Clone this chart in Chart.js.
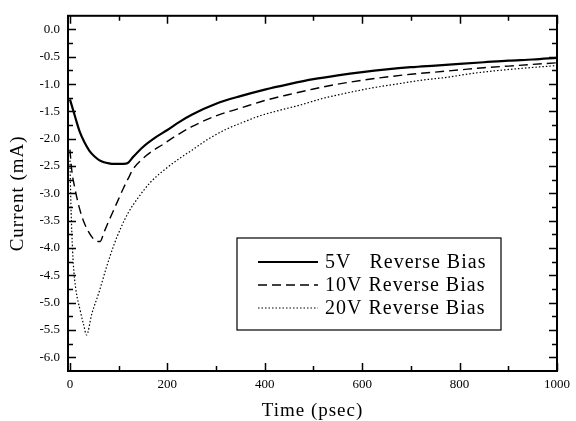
<!DOCTYPE html>
<html lang="en">
<head>
<meta charset="UTF-8">
<title>Transient Current vs Time</title>
<style>
    body { margin: 0; background: #ffffff; }
    #wrap { width: 576px; height: 421px; }
</style>
</head>
<body>
<div id="wrap"><canvas id="chart"></canvas></div>
<script src="https://cdn.jsdelivr.net/npm/chart.js@4.4.0/dist/chart.umd.min.js"></script>
<script>
// time (psec) and current (mA) for each reverse bias
var t5  = [0, 10, 20, 30, 40, 50, 60, 70, 80, 90, 100, 110, 118, 130, 150, 175, 200, 225, 250, 300, 350, 400, 450, 500, 550, 600, 650, 700, 750, 800, 850, 900, 950, 1000];
var i5  = [-1.28, -1.58, -1.87, -2.07, -2.22, -2.32, -2.39, -2.43, -2.45, -2.46, -2.46, -2.46, -2.45, -2.33, -2.15, -1.98, -1.84, -1.69, -1.56, -1.36, -1.22, -1.10, -1.00, -0.91, -0.84, -0.78, -0.73, -0.69, -0.66, -0.63, -0.60, -0.57, -0.55, -0.52];

var t10 = [0, 4, 10, 16, 22, 28, 38, 48, 58, 62, 70, 80, 90, 100, 110, 120, 130, 150, 170, 190, 210, 250, 300, 350, 400, 450, 500, 550, 600, 650, 700, 750, 800, 850, 900, 950, 1000];
var i10 = [-2.2, -2.6, -2.9, -3.15, -3.35, -3.51, -3.7, -3.83, -3.88, -3.88, -3.71, -3.5, -3.3, -3.1, -2.9, -2.72, -2.55, -2.36, -2.22, -2.11, -1.99, -1.78, -1.58, -1.44, -1.30, -1.19, -1.09, -1.00, -0.93, -0.87, -0.82, -0.78, -0.74, -0.70, -0.67, -0.64, -0.61];

var t20 = [0, 2, 4, 7, 12, 21, 28, 34, 45, 60, 75, 90, 105, 120, 140, 165, 195, 225, 252, 285, 320, 355, 390, 430, 470, 520, 570, 620, 670, 720, 770, 830, 880, 930, 1000];
var i20 = [-2.4, -3.2, -3.75, -4.3, -4.75, -5.14, -5.4, -5.59, -5.2, -4.8, -4.35, -3.95, -3.62, -3.35, -3.08, -2.8, -2.56, -2.36, -2.2, -2.0, -1.83, -1.70, -1.58, -1.48, -1.39, -1.26, -1.16, -1.07, -1.0, -0.93, -0.88, -0.80, -0.75, -0.71, -0.66];

var seriesNames = ['5V   Reverse Bias', '10V Reverse Bias', '20V Reverse Bias'];
var xTitle = 'Time (psec)';
var yTitle = 'Current (mA)';

var xTicks = [0, 200, 400, 600, 800, 1000];
var xMinor = [100, 300, 500, 700, 900];
var yTicks = [0, -0.5, -1, -1.5, -2, -2.5, -3, -3.5, -4, -4.5, -5, -5.5, -6];
var yMinor = [-0.25, -0.75, -1.25, -1.75, -2.25, -2.75, -3.25, -3.75, -4.25, -4.75, -5.25, -5.75];

var serif = 'Liberation Serif';

function toPoints(ts, vs) {
    return ts.map(function (t, k) { return { x: t, y: vs[k] }; });
}

// box round the plot with inward ticks on all four sides
var framePlugin = {
    id: 'frame',
    afterDatasetsDraw: function (chart) {
        var ctx = chart.ctx, a = chart.chartArea;
        var xs = chart.scales.x, ys = chart.scales.y;
        ctx.save();
        ctx.strokeStyle = '#000';
        ctx.lineWidth = 1.5;
        ctx.beginPath();
        function xt(v, len) {
            var p = Math.round(xs.getPixelForValue(v)) + 0.5;
            ctx.moveTo(p, a.bottom); ctx.lineTo(p, a.bottom - len);
            ctx.moveTo(p, a.top); ctx.lineTo(p, a.top + len);
        }
        function yt(v, len) {
            var p = Math.round(ys.getPixelForValue(v)) + 0.5;
            ctx.moveTo(a.left, p); ctx.lineTo(a.left + len, p);
            ctx.moveTo(a.right, p); ctx.lineTo(a.right - len, p);
        }
        xTicks.forEach(function (v) { xt(v, 8); });
        xMinor.forEach(function (v) { xt(v, 5); });
        yTicks.forEach(function (v) { yt(v, 8); });
        yMinor.forEach(function (v) { yt(v, 5); });
        ctx.stroke();
        ctx.lineWidth = 2;
        ctx.strokeRect(a.left, a.top, a.right - a.left, a.bottom - a.top);
        ctx.restore();
    }
};

// axis titles and the legend box, lower right
var overlay = {
    id: 'overlay',
    afterDraw: function (chart) {
        var ctx = chart.ctx, a = chart.chartArea;
        ctx.save();
        ctx.fillStyle = '#000';
        ctx.textAlign = 'center';
        ctx.textBaseline = 'middle';
        ctx.font = '19px "' + serif + '"';
        ctx.letterSpacing = '1px';
        ctx.fillText(xTitle, (a.left + a.right) / 2, 411);
        ctx.save();
        ctx.translate(18, (a.top + a.bottom) / 2);
        ctx.rotate(-Math.PI / 2);
        ctx.fillText(yTitle, 0, 0);
        ctx.restore();

        var bx = 237, by = 238, bw = 264, bh = 92;
        ctx.fillStyle = '#fff';
        ctx.fillRect(bx, by, bw, bh);
        ctx.strokeStyle = '#000';
        ctx.lineWidth = 1.2;
        ctx.strokeRect(bx, by, bw, bh);
        ctx.fillStyle = '#000';
        ctx.textAlign = 'left';
        ctx.font = '20px "' + serif + '"';
        ctx.letterSpacing = '1px';
        chart.data.datasets.forEach(function (ds, k) {
            var y = by + 24 + k * 23;
            ctx.beginPath();
            ctx.lineWidth = ds.borderWidth;
            ctx.setLineDash(ds.borderDash || []);
            ctx.moveTo(258, y);
            ctx.lineTo(318, y);
            ctx.stroke();
            ctx.setLineDash([]);
            ctx.fillText(ds.label, 325, y + 1);
        });
        ctx.restore();
    }
};

var ctx = document.getElementById('chart').getContext('2d');
new Chart(ctx, {
    type: 'line',
    data: {
        datasets: [
            { label: seriesNames[0], data: toPoints(t5, i5), borderColor: '#000', borderWidth: 2.2, borderDash: [] },
            { label: seriesNames[1], data: toPoints(t10, i10), borderColor: '#000', borderWidth: 1.4, borderDash: [9, 5] },
            { label: seriesNames[2], data: toPoints(t20, i20), borderColor: '#000', borderWidth: 1.2, borderDash: [1.5, 2] }
        ]
    },
    options: {
        responsive: true,
        maintainAspectRatio: false,
        animation: false,
        layout: { padding: { top: 12, right: 15, left: 0, bottom: 0 } },
        elements: {
            point: { radius: 0 },
            line: { cubicInterpolationMode: 'monotone', fill: false }
        },
        scales: {
            x: {
                type: 'linear',
                min: -4,
                max: 1000,
                grid: { display: false, drawTicks: false },
                border: { display: false },
                afterBuildTicks: function (s) { s.ticks = xTicks.map(function (v) { return { value: v }; }); },
                afterFit: function (s) { s.height = 50; },
                ticks: {
                    color: '#000',
                    padding: 6,
                    maxRotation: 0,
                    font: { family: serif, size: 13 },
                    callback: function (v) { return String(v); }
                }
            },
            y: {
                type: 'linear',
                min: -6.25,
                max: 0.25,
                grid: { display: false, drawTicks: false },
                border: { display: false },
                afterBuildTicks: function (s) { s.ticks = yTicks.map(function (v) { return { value: v }; }); },
                afterFit: function (s) { s.width = 68; },
                ticks: {
                    color: '#000',
                    padding: 8,
                    font: { family: serif, size: 13 },
                    callback: function (v) { return v === 0 ? '0.0' : v.toFixed(1); }
                }
            }
        },
        plugins: {
            legend: { display: false },
            tooltip: { enabled: false }
        }
    },
    plugins: [framePlugin, overlay]
});
</script>
</body>
</html>
